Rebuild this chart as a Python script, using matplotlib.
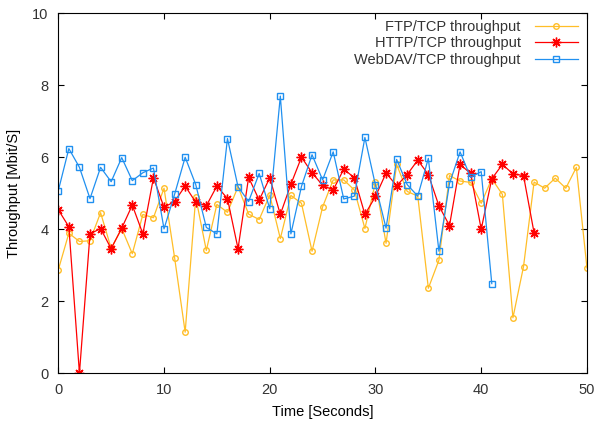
import numpy as np
import matplotlib.pyplot as plt

ftp_time = list(range(0, 51))
ftp = [2.87, 3.89, 3.66, 3.68, 4.46, 3.47, 4.02, 3.32, 4.41, 4.32,
       5.14, 3.21, 1.14, 4.89, 3.41, 4.69, 4.47, 5.18, 4.42, 4.27,
       4.95, 3.74, 4.94, 4.72, 3.39, 4.62, 5.37, 5.37, 5.09, 4.02,
       5.31, 3.61, 5.80, 5.05, 4.92, 2.36, 3.14, 5.49, 5.34, 5.30,
       4.72, 5.40, 4.97, 1.54, 2.96, 5.31, 5.14, 5.42, 5.14, 5.72,
       2.93]

http_time = list(range(0, 46))
http = [4.54, 4.07, 0.00, 3.87, 4.02, 3.46, 4.03, 4.67, 3.87, 5.43,
        4.61, 4.77, 5.20, 4.75, 4.65, 5.20, 4.85, 3.46, 5.44, 4.81,
        5.43, 4.41, 5.25, 6.00, 5.57, 5.22, 5.09, 5.67, 5.43, 4.41,
        4.91, 5.56, 5.21, 5.52, 5.92, 5.52, 4.65, 4.10, 5.80, 5.55,
        4.00, 5.40, 5.80, 5.54, 5.49, 3.90]

webdav_time = list(range(0, 42))
webdav = [5.07, 6.24, 5.72, 4.85, 5.72, 5.32, 5.99, 5.35, 5.57, 5.70,
          4.01, 4.97, 6.00, 5.24, 4.05, 3.87, 6.52, 5.18, 4.77, 5.55,
          4.57, 7.70, 3.87, 5.19, 6.07, 5.37, 6.15, 4.84, 4.92, 6.55,
          5.22, 4.03, 5.94, 5.24, 4.92, 5.97, 3.39, 5.27, 6.15, 5.44,
          5.60, 2.49]

plt.rcParams['font.family'] = ['Liberation Sans', 'DejaVu Sans']
plt.rcParams['text.color'] = '#333333'

fig = plt.figure(figsize=(5.96, 4.28), dpi=100)
ax = fig.add_axes([0.0978, 0.128, 0.887, 0.841])

ax.plot(ftp_time, ftp, color='#ffbe28', lw=0.9, marker='o', ms=4,
        mfc='none', mec='#ffbe28', mew=1, label='FTP/TCP throughput')
ax.plot(http_time, http, color='#ff0000', lw=0.9, marker=(8, 2, 0), ms=7,
        mec='#ff0000', mew=1, label='HTTP/TCP throughput')
ax.plot(webdav_time, webdav, color='#2090f0', lw=0.9, marker='s', ms=5,
        mfc='none', mec='#2090f0', mew=1, label='WebDAV/TCP throughput')

ax.set_xlim(0, 50)
ax.set_ylim(0, 10)
ax.set_xticks(np.arange(0, 51, 10))
ax.set_yticks(np.arange(0, 11, 2))
ax.tick_params(direction='in', top=True, right=True, length=4,
               labelsize=10.5, colors='black', labelcolor='#333333', pad=7)
ax.set_xlabel('Time [Seconds]', fontsize=10.5, labelpad=6)
ax.set_ylabel('Throughput [Mbit/S]', fontsize=10.5, labelpad=8)

ax.legend(loc='upper right', frameon=False, markerfirst=False,
          fontsize=10.5, handlelength=3.0, borderaxespad=0.05,
          labelspacing=0.18, handletextpad=0.95,
          bbox_to_anchor=(0.996, 1.0))

fig.savefig('out.png', dpi=100)
